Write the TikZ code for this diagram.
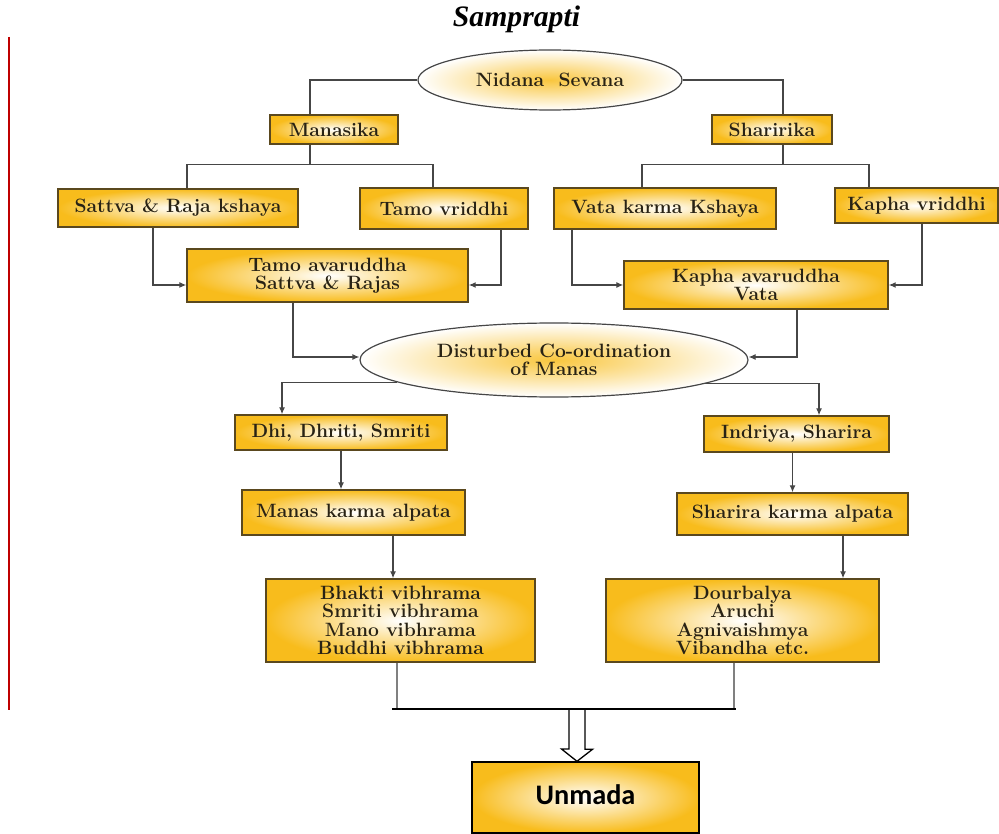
\documentclass[tikz,border=0pt]{standalone}
\usepackage{fontspec}
\usetikzlibrary{arrows.meta,shapes.geometric}
\newfontfamily\titlefont{Liberation Serif}
\newfontfamily\unmadafont{Carlito}
\definecolor{boxgold}{RGB}{248,188,28}
\definecolor{boxedge}{RGB}{90,72,30}
\definecolor{linkgray}{RGB}{70,70,70}
\definecolor{inkbrown}{RGB}{40,34,20}
\begin{document}
\begin{tikzpicture}[x=1pt,y=-1pt,
	box/.style={draw=boxedge,line width=1.4pt,inner color=white,outer color=boxgold,inner sep=0pt,align=center,text=inkbrown,font=\fontsize{19.3}{18.3}\selectfont\bfseries},
	oval/.style={ellipse,draw=linkgray,line width=1.2pt,inner color=boxgold!85,outer color=white,inner sep=0pt,align=center,text=inkbrown,font=\fontsize{19.3}{18.3}\selectfont\bfseries},
	link/.style={draw=linkgray,line width=1.2pt},
	arr/.style={link,-{Latex[length=7pt,width=6pt]}}]
	\useasboundingbox (0,0) rectangle (999,834);
	\draw[red!75!black,line width=1.2pt] (9,37) -- (9,710);
	\node[anchor=base,font=\fontsize{29.7}{30}\titlefont\bfseries\itshape] (title) at (516.5,27) {Samprapti};
	\node[oval,minimum width=264,minimum height=60] (nidana) at (550,80) {Nidana\ \ Sevana};
	\node[box,minimum width=128,minimum height=29] (manasika) at (334,129.5) {Manasika};
	\node[box,minimum width=120,minimum height=29] (sharirika) at (772,129.5) {Sharirika};
	\node[box,minimum width=240,minimum height=38] (sattva) at (178,208) {Sattva \& Raja kshaya};
	\node[box,minimum width=168,minimum height=41] (tamov) at (444,208.5) {Tamo vriddhi};
	\node[box,minimum width=222,minimum height=41] (vata) at (665,208.5) {Vata karma Kshaya};
	\node[box,minimum width=163,minimum height=35] (kaphav) at (916.5,205.5) {Kapha vriddhi};
	\node[box,minimum width=281,minimum height=53] (tamoa) at (327.5,275.5) {Tamo avaruddha\\Sattva \& Rajas};
	\node[box,minimum width=264,minimum height=48] (kaphaa) at (756,285) {Kapha avaruddha\\Vata};
	\node[oval,minimum width=388,minimum height=74] (dcm) at (554,360) {Disturbed Co-ordination\\of Manas};
	\node[box,minimum width=212,minimum height=35] (dhi) at (341,432.5) {Dhi, Dhriti, Smriti};
	\node[box,minimum width=185,minimum height=36] (indriya) at (796.5,434) {Indriya, Sharira};
	\node[box,minimum width=223,minimum height=45] (manas) at (353.5,512.5) {Manas karma alpata};
	\node[box,minimum width=231,minimum height=42] (sharira) at (792.5,514) {Sharira karma alpata};
	\node[box,minimum width=269,minimum height=83] (bhakti) at (400.5,620.5) {Bhakti vibhrama\\Smriti vibhrama\\Mano vibhrama\\Buddhi vibhrama};
	\node[box,minimum width=273,minimum height=83] (dourb) at (742.5,620.5) {Dourbalya\\Aruchi\\Agnivaishmya\\Vibandha etc.};
	\node[box,draw=black,text=black,minimum width=227,minimum height=71,font=\fontsize{28.3}{30}\unmadafont\bfseries] (unmada) at (585.5,797.5) {\raisebox{6pt}{Unmada}};
	\draw[link] (nidana.west) -| ([xshift=-24pt]manasika.north);
	\draw[link] (nidana.east) -| ([xshift=11pt]sharirika.north);
	\draw[link] ([xshift=-24pt]manasika.south) -- ++(0,20) -| ([xshift=9pt]sattva.north);
	\draw[link] ([xshift=-24pt]manasika.south) -- ++(0,20) -| ([xshift=-11pt]tamov.north);
	\draw[link] ([xshift=11pt]sharirika.south) -- ++(0,20) -| ([xshift=-23pt]vata.north);
	\draw[link] ([xshift=11pt]sharirika.south) -- ++(0,20) -| ([xshift=-47.5pt]kaphav.north);
	\draw[arr] ([xshift=-25pt]sattva.south) |- ([yshift=-9.5pt]tamoa.west);
	\draw[arr] ([xshift=57pt]tamov.south) |- ([yshift=-9.5pt]tamoa.east);
	\draw[arr] ([xshift=-93pt]vata.south) |- (kaphaa.west);
	\draw[arr] ([xshift=5.5pt]kaphav.south) |- (kaphaa.east);
	\draw[arr] ([xshift=-34.5pt]tamoa.south) |- ([yshift=3pt]dcm.west);
	\draw[arr] ([xshift=41pt]kaphaa.south) |- ([yshift=3pt]dcm.east);
	\draw[arr] (dcm.188.6) -| ([xshift=-59pt]dhi.north);
	\draw[arr] (dcm.351.4) -| ([xshift=22.5pt]indriya.north);
	\draw[arr] (dhi.south) -- (dhi.south |- manas.north);
	\draw[arr] (sharira.north |- indriya.south) -- (sharira.north);
	\draw[arr] ([xshift=39.5pt]manas.south) -- ([xshift=39.5pt]manas.south |- bhakti.north);
	\draw[arr] ([xshift=50.5pt]sharira.south) -- ([xshift=50.5pt]sharira.south |- dourb.north);
	\coordinate (barl) at (392,709);
	\coordinate (barr) at (736,709);
	\coordinate (barmid) at (577,709);
	\draw[link,draw=gray] ([xshift=-3.5pt]bhakti.south) -- ([xshift=-3.5pt]bhakti.south |- barl);
	\draw[link,draw=gray] ([xshift=-8.5pt]dourb.south) -- ([xshift=-8.5pt]dourb.south |- barr);
	\draw[line width=1.3pt,fill=white] ([xshift=-8pt]barmid) -- ++(0,40) -- ++(-7.5,0) -- (barmid |- unmada.north) -- ++(15.5,-12) -- ++(-7.5,0) -- ([xshift=8pt]barmid);
	\draw[line width=2.5pt] (barl) -- (barr);
\end{tikzpicture}
\end{document}
